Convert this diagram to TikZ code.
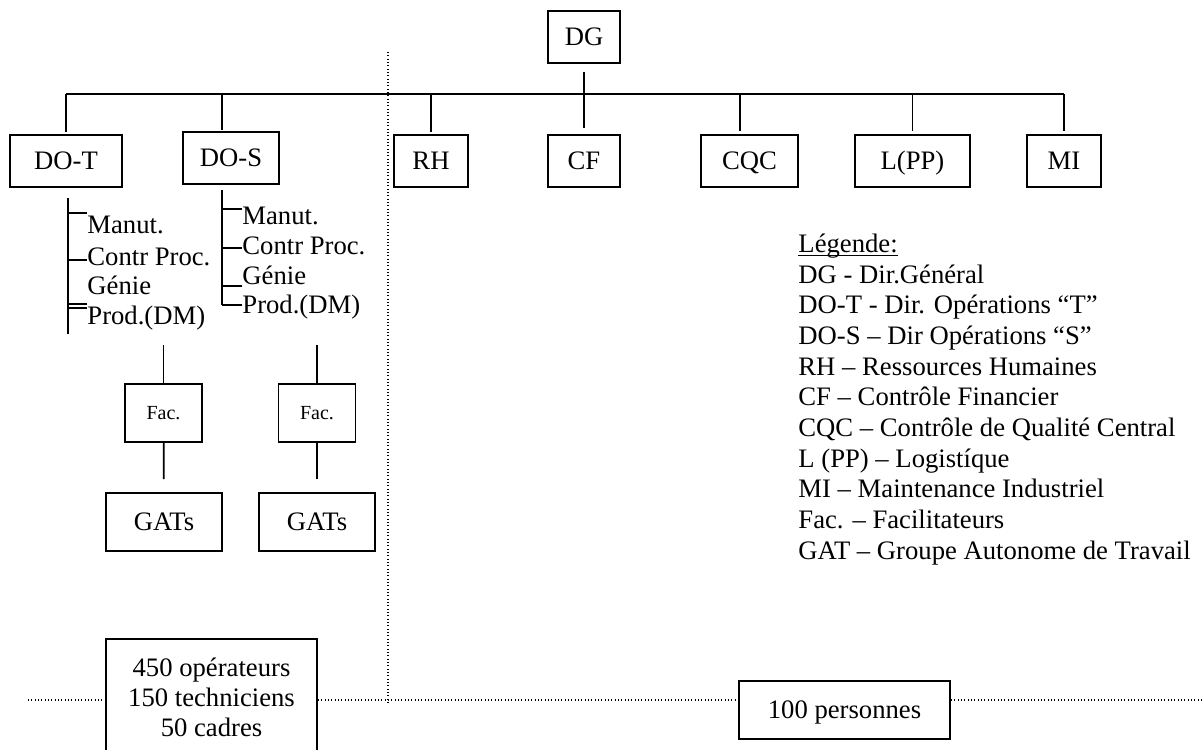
\documentclass[tikz,border=0pt]{standalone}
\usepackage{fontspec}
\setmainfont{Liberation Serif}
\usepackage{tikz}
\usetikzlibrary{positioning}

\begin{document}
\begin{tikzpicture}[x=0.45pt, y=-0.45pt, font=\fontsize{12}{13.8}\selectfont,
        box/.style={draw, line width=0.8pt, inner sep=0pt, minimum height=23.4pt,
                    text height=8pt, text depth=0pt},
        facbox/.style={box, minimum width=34.65pt, minimum height=26.1pt,
                    text height=6pt, font=\fontsize{9}{10}\selectfont},
        gatbox/.style={box, minimum width=52.2pt, minimum height=26.1pt},
        item/.style={anchor=base west, inner sep=0pt},
        link/.style={line width=0.8pt},
        dotline/.style={line width=0.5pt, densely dotted}]
        \useasboundingbox (0,0) rectangle (1204,749);

        % top level
        \node[box, minimum width=32.4pt] (DG) at (584,37) {DG};
        \node[box, minimum width=50.4pt] (DOT) at (66,161) {DO-T};
        \node[box, minimum width=43.2pt] (DOS) at (231,158) {DO-S};
        \node[box, minimum width=33.3pt] (RH) at (431,161) {RH};
        \node[box, minimum width=32.4pt] (CF) at (584,161) {CF};
        \node[box, minimum width=43.65pt] (CQC) at (749.5,161) {CQC};
        \node[box, minimum width=51.75pt] (LPP) at (912.5,161) {L(PP)};
        \node[box, minimum width=33.3pt] (MI) at (1064,161) {MI};

        \coordinate (busL) at (66,94);
        \coordinate (busR) at (1064,94);
        \draw[link] (busL) -- (busR);
        \draw[link, shorten <=3.6pt, shorten >=2.7pt] (DG) -- (CF);
        \draw[link, shorten >=1pt] (busL) -- (DOT);
        \draw[link, shorten >=0.5pt] ([xshift=-4pt]DOS.north |- busL) -- ([xshift=-4pt]DOS.north);
        \draw[link, shorten >=1pt] (RH.north |- busL) -- (RH);
        \draw[link, shorten >=1.3pt] ([xshift=-4.3pt]CQC.north |- busL) -- ([xshift=-4.3pt]CQC.north);
        \draw[link, shorten >=1.3pt] (LPP.north |- busL) -- (LPP);
        \draw[link, shorten >=1.3pt] (busR) -- (MI);

        % services DO-T
        \coordinate (spTa) at (68,198);
        \coordinate (spTb) at (68,334);
        \draw[link] (spTa) -- (spTb);
        \node[item] (mT1) at (87,233) {Manut.};
        \node[item] (mT2) at (87,265) {Contr Proc.};
        \node[item] (mT3) at (87,294) {Génie};
        \node[item] (mT4) at (87,324) {Prod.(DM)};
        \draw[link] ([yshift=9pt]mT1.base west) -- +(-19,0);
        \draw[link] ([yshift=2.25pt]mT2.base west) -- +(-19,0);
        \draw[link] ([yshift=9pt]mT4.base west) -- +(-19,0);
        \draw[link] ([yshift=7.2pt]mT4.base west) -- +(-19,0);

        % services DO-S
        \coordinate (spSa) at (222,190);
        \coordinate (spSb) at (222,305);
        \draw[link] (spSa) -- (spSb);
        \node[item] (mS1) at (242,224) {Manut.};
        \node[item] (mS2) at (242,254) {Contr Proc.};
        \node[item] (mS3) at (242,284) {Génie};
        \node[item] (mS4) at (242,313) {Prod.(DM)};
        \draw[link] ([yshift=6.75pt]mS1.base west) -- +(-20,0);
        \draw[link] ([yshift=2.7pt]mS2.base west) -- +(-20,0);
        \draw[link] ([yshift=-0.9pt]mS3.base west) -- +(-20,0);
        \draw[link] ([yshift=3.6pt]mS4.base west) -- +(-20,0);

        % facilitateurs et GATs
        \node[facbox] (FacT) at (163.5,413) {Fac.};
        \node[facbox] (FacS) at (317,413) {Fac.};
        \node[gatbox] (GatT) at (164,522) {GATs};
        \node[gatbox] (GatS) at (317,522) {GATs};
        \coordinate (fT) at (163.5,345);
        \coordinate (fS) at (317,345);
        \draw[link] (fT) -- (FacT);
        \draw[link] (fS) -- (FacS);
        \draw[link, shorten >=5.85pt] (FacT) -- (GatT);
        \draw[link, shorten >=5.85pt] (FacS) -- (GatS);

        % effectifs
        \node[draw, line width=0.8pt, inner sep=0pt, minimum width=94.95pt,
              minimum height=52.2pt, align=center,
              font=\fontsize{12}{13.5}\selectfont] (Staff) at (211.5,697)
              {450 opérateurs\\150 techniciens\\50 cadres};
        \node[box, minimum width=94.95pt, minimum height=26.1pt] (Pers) at (844.5,710) {100 personnes};

        \coordinate (vTop) at (388,52);
        \coordinate (vBot) at (388,705);
        \draw[dotline] (vTop) -- (vBot);
        \coordinate (hL) at (28,700);
        \coordinate (hR) at (1204,700);
        \draw[dotline] (hL) -- (hL -| Staff.west);
        \draw[dotline] (hL -| Staff.east) -- (hL -| Pers.west);
        \draw[dotline] (hR -| Pers.east) -- (hR);

        % legende
        \node[anchor=north west, inner sep=0pt, align=left] (leg) at (798,252)
              {\underline{\smash{Légende:}}\\
               DG - Dir.Général\\
               DO-T - Dir. Opérations “T”\\
               DO-S – Dir Opérations “S”\\
               RH – Ressources Humaines\\
               CF – Contrôle Financier\\
               CQC – Contrôle de Qualité Central\\
               L (PP) – Logistíque\\
               MI – Maintenance Industriel\\
               Fac. – Facilitateurs\\
               GAT – Groupe Autonome de Travail};
\end{tikzpicture}
\end{document}
